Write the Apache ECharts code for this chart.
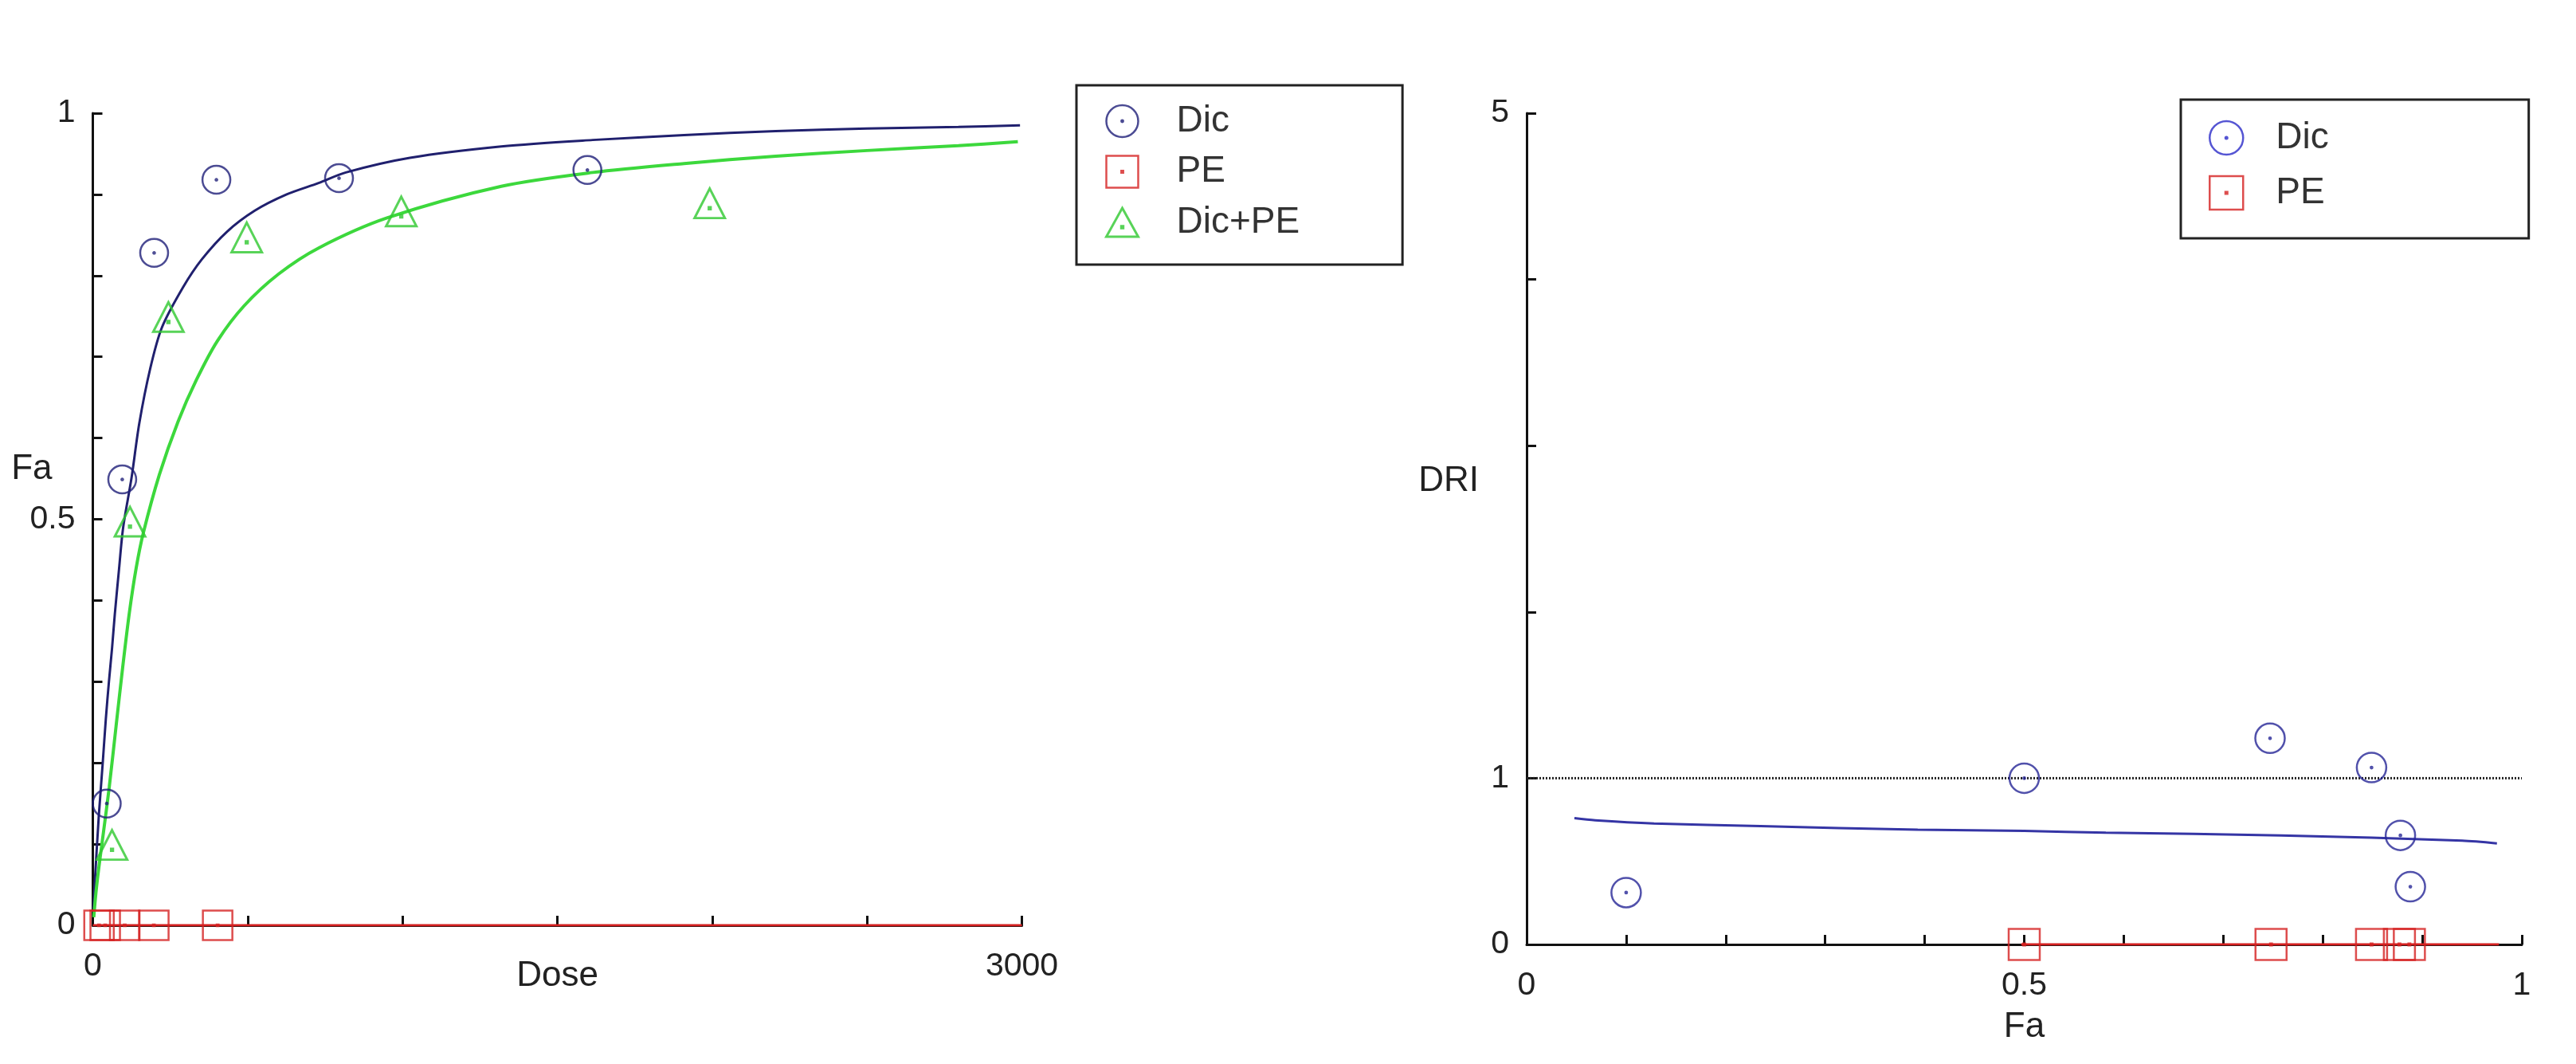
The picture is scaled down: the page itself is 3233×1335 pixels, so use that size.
<!DOCTYPE html>
<html>
<head>
<meta charset="utf-8">
<script src="https://cdn.jsdelivr.net/npm/echarts@6/dist/echarts.min.js"></script>
<style>
html,body{margin:0;padding:0;background:#fff;}
#chart{width:3233px;height:1335px;}
</style>
</head>
<body>
<div id="chart"></div>
<script>
// ---------- Left panel: dose-effect curves ----------
const dicDose = [45, 95, 198, 399, 795, 1597];
const dicFa = [0.150, 0.549, 0.828, 0.918, 0.920, 0.930];

const peDose = [20, 40, 103, 197, 403];
const peFa = [0, 0, 0, 0, 0];

const comboDose = [62, 120, 244, 497, 996, 1992];
const comboFa = [0.099, 0.497, 0.749, 0.847, 0.879, 0.889];

const dicFitDose = [2, 6, 19, 32, 42, 52, 62, 71, 84, 98, 125, 150, 185, 223, 292, 352, 433, 523, 626, 729, 817, 1024, 1319, 1614, 1909, 2205, 2500, 2795, 2994];
const dicFitFa = [0.02, 0.05, 0.133, 0.2, 0.254, 0.3, 0.341, 0.383, 0.436, 0.49, 0.551, 0.618, 0.685, 0.736, 0.786, 0.82, 0.854, 0.88, 0.9, 0.914, 0.927, 0.945, 0.959, 0.967, 0.973, 0.978, 0.981, 0.983, 0.985];

const comboFitDose = [3, 10, 19, 34.5, 53, 75, 96.5, 118, 140, 163, 215, 275, 335, 403, 489, 600, 729, 950, 1319, 1614, 1909, 2205, 2500, 2795, 2987];
const comboFitFa = [0.01, 0.04, 0.07, 0.115, 0.17, 0.245, 0.318, 0.385, 0.44, 0.483, 0.555, 0.62, 0.672, 0.72, 0.763, 0.802, 0.834, 0.871, 0.91, 0.927, 0.938, 0.947, 0.954, 0.960, 0.965];

const peLineDose = [0, 3000];
const peLineFa = [0, 0];

const leftYLabels = [0, 0.5, 1];
const leftXLabels = [0, 3000];

// ---------- Right panel: DRI vs Fa ----------
const driDicFa = [0.100, 0.500, 0.747, 0.849, 0.878, 0.888];
const driDicVal = [0.312, 1.0, 1.24, 1.064, 0.656, 0.347];

const driPeFa = [0.5, 0.748, 0.849, 0.877, 0.887];
const driPeVal = [0, 0, 0, 0, 0];

const driFitFa = [0.048, 0.069, 0.128, 0.235, 0.393, 0.5, 0.582, 0.758, 0.94, 0.975];
const driFitVal = [0.76, 0.747, 0.728, 0.712, 0.69, 0.683, 0.672, 0.656, 0.624, 0.608];

const driPeLineFa = [0.497, 0.977];
const driPeLineVal = [0, 0];

const refLineFa = [0, 1];
const refLineVal = [1, 1];

const rightYLabels = [0, 1, 5];
const rightXLabels = [0, 0.5, 1];

// ---------- helpers ----------
const zip = (a, b) => a.map((v, i) => [v, b[i]]);
const onlyLabels = (list) => (v) => list.some(t => Math.abs(t - v) < 1e-9) ? String(v) : '';

const FONT = 'Liberation Sans, Arial, sans-serif';
const symCircle = 'path://M0,-10A10,10 0 1,1 0,10A10,10 0 1,1 0,-10ZM0,-0.6A0.6,0.6 0 1,1 0,0.6A0.6,0.6 0 1,1 0,-0.6Z';
const symSquare = 'path://M-10,-10L10,-10L10,10L-10,10ZM-0.6,-0.6L0.6,-0.6L0.6,0.6L-0.6,0.6Z';
const symTri = 'path://M0,-10L10,8L-10,8ZM-0.6,1.4L0.6,1.4L0.6,2.6L-0.6,2.6Z';

const NAVY = '#1e1e78';
const NAVY_LINE = '#20206e';
const BLUE_R = '#262696';
const BLUE_R_LEG = '#2a2ac8';
const BLUE_R_LINE = '#3535a5';
const RED = '#d42020';
const GREEN = '#2ec82e';
const GREEN_LINE = '#3cd83c';
const AXIS = '#111';
const TXT = '#222';

const hollow = (c, w) => ({ color: 'rgba(0,0,0,0)', borderColor: c, borderWidth: w || 2.5 });

const axisCommon = {
  axisLine: { show: true, onZero: false, lineStyle: { color: AXIS, width: 3 } },
  axisTick: { show: true, inside: true, length: 12, lineStyle: { color: AXIS, width: 3 } },
  splitLine: { show: false },
  minorTick: { show: false },
  nameMoveOverlap: false
};

const chart = echarts.init(document.getElementById('chart'), null, { renderer: 'canvas' });

const option = {
  backgroundColor: '#fff',
  animation: false,
  textStyle: { fontFamily: FONT },
  grid: [
    { left: 116.5, top: 142, width: 1166, height: 1019, containLabel: false, outerBoundsMode: 'none' },
    { left: 1916, top: 142, width: 1249, height: 1043, containLabel: false, outerBoundsMode: 'none' }
  ],
  xAxis: [
    Object.assign({}, axisCommon, {
      type: 'value', gridIndex: 0, min: 0, max: 3000, interval: 500,
      name: 'Dose', nameLocation: 'middle', nameGap: 42,
      nameTextStyle: { fontSize: 44, color: TXT, fontFamily: FONT },
      axisLabel: { formatter: onlyLabels(leftXLabels), fontSize: 41, color: TXT, margin: 31, fontFamily: FONT }
    }),
    Object.assign({}, axisCommon, {
      type: 'value', gridIndex: 1, min: 0, max: 1, interval: 0.1,
      name: 'Fa', nameLocation: 'middle', nameGap: 82,
      nameTextStyle: { fontSize: 44, color: TXT, fontFamily: FONT },
      axisLabel: { formatter: onlyLabels(rightXLabels), fontSize: 41, color: TXT, margin: 31, fontFamily: FONT }
    })
  ],
  yAxis: [
    Object.assign({}, axisCommon, {
      type: 'value', gridIndex: 0, min: 0, max: 1, interval: 0.1,
      name: 'Fa\n\n\n', nameLocation: 'middle', nameGap: 51, nameRotate: 0,
      nameTextStyle: { fontSize: 44, lineHeight: 42, color: TXT, fontFamily: FONT, align: 'right', verticalAlign: 'middle' },
      axisLabel: { formatter: onlyLabels(leftYLabels), fontSize: 41, color: TXT, margin: 22, fontFamily: FONT }
    }),
    Object.assign({}, axisCommon, {
      type: 'value', gridIndex: 1, min: 0, max: 5, interval: 1,
      name: 'DRI\n\n\n', nameLocation: 'middle', nameGap: 60, nameRotate: 0,
      nameTextStyle: { fontSize: 44, lineHeight: 40, color: TXT, fontFamily: FONT, align: 'right', verticalAlign: 'middle' },
      axisLabel: { formatter: onlyLabels(rightYLabels), fontSize: 41, color: TXT, margin: 22, fontFamily: FONT }
    })
  ],
  legend: [
    {
      left: 1351, top: 107, orient: 'vertical', selectedMode: false,
      backgroundColor: '#fff', borderColor: '#222', borderWidth: 3,
      padding: [22, 129, 30, 36], itemGap: 17.5, itemWidth: 40, itemHeight: 40,
      formatter: (n) => '{s|}' + n,
      textStyle: { fontSize: 46, color: '#333', fontFamily: FONT, rich: { s: { width: 43 } } },
      data: [
        { name: 'Dic', icon: symCircle, itemStyle: hollow(NAVY) },
        { name: 'PE', icon: symSquare, itemStyle: hollow(RED) },
        { name: 'Dic+PE', icon: symTri, itemStyle: hollow(GREEN, 3) }
      ]
    },
    {
      left: 2737, top: 125, orient: 'vertical', selectedMode: false,
      backgroundColor: '#fff', borderColor: '#222', borderWidth: 3,
      padding: [25, 251, 34, 35], itemGap: 23, itemWidth: 42, itemHeight: 42,
      formatter: (n) => '{s|}' + n,
      textStyle: { fontSize: 46, color: '#333', fontFamily: FONT, rich: { s: { width: 36 } } },
      data: [
        { name: 'Dic', icon: symCircle, itemStyle: hollow(BLUE_R_LEG) },
        { name: 'PE', icon: symSquare, itemStyle: hollow(RED) }
      ]
    }
  ],
  series: [
    // left panel markers
    { name: 'Dic', type: 'scatter', xAxisIndex: 0, yAxisIndex: 0, z: 4,
      symbol: symCircle, symbolSize: 35, itemStyle: hollow(NAVY), data: zip(dicDose, dicFa) },
    { name: 'PE', type: 'scatter', xAxisIndex: 0, yAxisIndex: 0, z: 4,
      symbol: symSquare, symbolSize: 37, itemStyle: hollow(RED), data: zip(peDose, peFa) },
    { name: 'Dic+PE', type: 'scatter', xAxisIndex: 0, yAxisIndex: 0, z: 4,
      symbol: symTri, symbolSize: [38, 37], itemStyle: hollow(GREEN, 3), data: zip(comboDose, comboFa) },
    // left panel fitted curves
    { name: 'Dic fit', type: 'line', xAxisIndex: 0, yAxisIndex: 0, z: 3, smooth: 0.3, showSymbol: false, silent: true,
      lineStyle: { color: NAVY_LINE, width: 3 }, data: zip(dicFitDose, dicFitFa) },
    { name: 'Dic+PE fit', type: 'line', xAxisIndex: 0, yAxisIndex: 0, z: 3, smooth: 0.3, showSymbol: false, silent: true,
      lineStyle: { color: GREEN_LINE, width: 4 }, data: zip(comboFitDose, comboFitFa) },
    { name: 'PE fit', type: 'line', xAxisIndex: 0, yAxisIndex: 0, z: 3, showSymbol: false, silent: true,
      lineStyle: { color: RED, width: 3 }, data: zip(peLineDose, peLineFa) },

    // right panel
    { name: 'DRI = 1', type: 'line', xAxisIndex: 1, yAxisIndex: 1, z: 2, showSymbol: false, silent: true,
      lineStyle: { color: '#222', width: 3, type: [2, 2] }, data: zip(refLineFa, refLineVal) },
    { name: 'Dic DRI fit', type: 'line', xAxisIndex: 1, yAxisIndex: 1, z: 3, smooth: 0.3, showSymbol: false, silent: true,
      lineStyle: { color: BLUE_R_LINE, width: 3 }, data: zip(driFitFa, driFitVal) },
    { name: 'PE DRI fit', type: 'line', xAxisIndex: 1, yAxisIndex: 1, z: 3, showSymbol: false, silent: true,
      lineStyle: { color: RED, width: 3 }, data: zip(driPeLineFa, driPeLineVal) },
    { name: 'Dic', type: 'scatter', xAxisIndex: 1, yAxisIndex: 1, z: 4,
      symbol: symCircle, symbolSize: 37, itemStyle: hollow(BLUE_R), data: zip(driDicFa, driDicVal) },
    { name: 'PE', type: 'scatter', xAxisIndex: 1, yAxisIndex: 1, z: 4,
      symbol: symSquare, symbolSize: 39, itemStyle: hollow(RED), data: zip(driPeFa, driPeVal) }
  ]
};

chart.setOption(option);
</script>
</body>
</html>
